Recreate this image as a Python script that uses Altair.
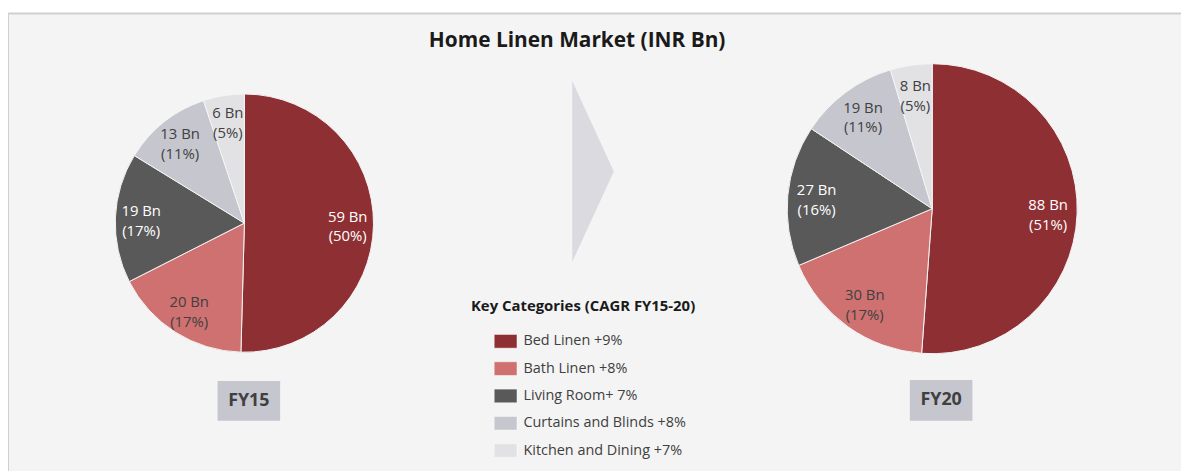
import altair as alt
import pandas as pd

# ---- data ----
categories = ["Bed Linen +9%", "Bath Linen +8%", "Living Room+ 7%",
              "Curtains and Blinds +8%", "Kitchen and Dining +7%"]
fy15_values = [59, 20, 19, 13, 6]
fy15_pct = [50, 17, 17, 11, 5]
fy20_values = [88, 30, 27, 19, 8]
fy20_pct = [51, 17, 16, 11, 5]
colors = ["#8e2f33", "#cf7170", "#595959", "#c6c7ce", "#e2e2e5"]

rows = []
for yr, vals, pcts in [("FY15", fy15_values, fy15_pct), ("FY20", fy20_values, fy20_pct)]:
    for i, (c, v, p) in enumerate(zip(categories, vals, pcts)):
        rows.append({"year": yr, "category": c, "idx": i, "value": v,
                     "label": f"{v} Bn\n({p}%)"})
df = pd.DataFrame(rows)

FONT = "Open Sans"
W, H = 1181, 463

base = alt.Chart(df)
dummy = alt.Chart(pd.DataFrame({"k": [0]}))

color_scale = alt.Scale(domain=categories, range=colors)
text_color = alt.condition(
    alt.FieldOneOfPredicate(field="category", oneOf=[categories[0], categories[2]]),
    alt.value("white"), alt.value("#404040"))

background = dummy.mark_rect(fill="#f4f4f4", stroke="#d0d0d0", strokeWidth=2).encode(
    x=alt.value(0), x2=alt.value(W + 5), y=alt.value(4), y2=alt.value(H + 5))

arrow = dummy.mark_point(shape="M-0.23,-1L0.23,0L-0.23,1Z", filled=True,
                         fill="#dadae0", opacity=1, strokeWidth=0, size=33124).encode(
    x=alt.value(589), y=alt.value(163))

title = dummy.mark_text(text="Home Linen Market (INR Bn)", font=FONT, fontSize=21,
                        fontWeight="bold", color="#1a1a1a").encode(
    x=alt.value(573), y=alt.value(32))

legend_title = dummy.mark_text(text="Key Categories (CAGR FY15-20)", font=FONT,
                               fontSize=15, fontWeight="bold", color="#1a1a1a").encode(
    x=alt.value(579), y=alt.value(298))

def pie(year, cx, cy, r, show_legend):
    d = base.transform_filter(alt.datum.year == year)
    leg = alt.Legend(
        title=None, orient="none", legendX=489, legendY=322,
        symbolType="M-1,-0.6H1V0.6H-1Z", symbolSize=529,
        symbolStrokeColor="#ffffff", symbolStrokeWidth=0.5, symbolOpacity=1,
        labelFont=FONT, labelFontSize=14.5, labelColor="#404040", labelLimit=400,
        labelOffset=6, rowPadding=7.5) if show_legend else None
    arcs = d.mark_arc(outerRadius=r, stroke="#f4f4f4", strokeWidth=1).encode(
        x=alt.value(cx), y=alt.value(cy),
        theta=alt.Theta("value:Q", stack=True),
        order=alt.Order("idx:Q"),
        color=alt.Color("category:N", scale=color_scale, legend=leg))
    texts = d.mark_text(radius=r * 0.8, font=FONT, fontSize=15, lineBreak="\n",
                        lineHeight=20, dy=-8).encode(
        x=alt.value(cx), y=alt.value(cy),
        theta=alt.Theta("value:Q", stack=True),
        order=alt.Order("idx:Q"),
        text="label:N", color=text_color)
    return arcs, texts

a15, t15 = pie("FY15", 238, 215, 130, True)
a20, t20 = pie("FY20", 930.5, 200.5, 146, False)

def year_box(label, x0, x1, y0, y1):
    box = dummy.mark_rect(fill="#c6c6cf").encode(
        x=alt.value(x0), x2=alt.value(x1), y=alt.value(y0), y2=alt.value(y1))
    txt = dummy.mark_text(text=label, font=FONT, fontSize=18, fontWeight="bold",
                          color="#404040").encode(
        x=alt.value((x0 + x1) / 2), y=alt.value((y0 + y1) / 2))
    return box + txt

chart = alt.layer(
    background, arrow, title, legend_title,
    a15, a20, t15, t20,
    year_box("FY15", 211, 274, 374, 414),
    year_box("FY20", 908, 971, 373, 414),
).resolve_scale(theta="independent").properties(
    width=W, height=H, padding=0, background="white",
    autosize=alt.AutoSizeParams(type="none"),
).configure_view(stroke=None)

chart.save("out.html", embed_options={"renderer": "svg", "actions": False})
